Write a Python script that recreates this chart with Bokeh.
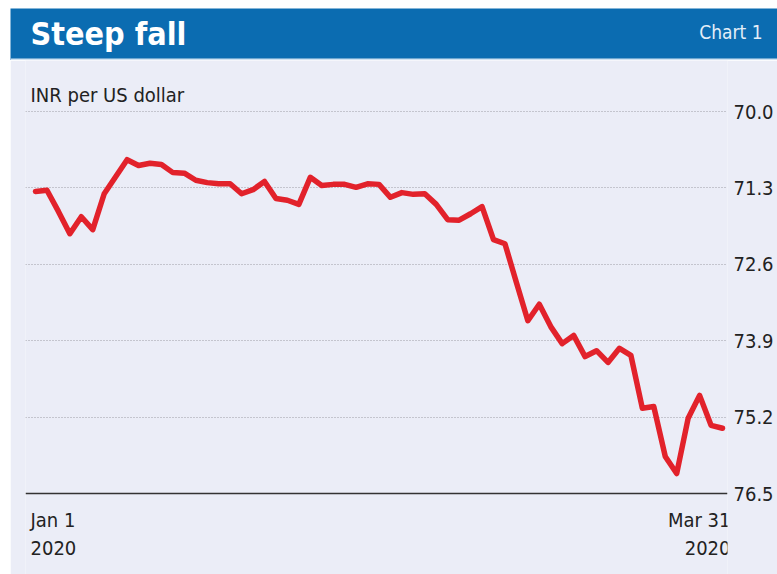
from bokeh.plotting import figure
from bokeh.layouts import column
from bokeh.models import Range1d, FixedTicker, Label, Span, BoxAnnotation
from bokeh.embed import file_html
from bokeh.resources import INLINE

# ---------------- data ----------------
title = "Steep fall"
chart_no = "Chart 1"
unit_label = "INR per US dollar"
start_label = ["Jan 1", "2020"]
end_label = ["Mar 31", "2020"]

# INR per US dollar, trading days Jan 1 - Mar 31 2020
inr_per_usd = [
    71.36, 71.34, 71.70, 72.08, 71.79, 72.01, 71.40, 71.11, 70.82, 70.92,
    70.88, 70.90, 71.04, 71.05, 71.17, 71.21, 71.23, 71.23, 71.40, 71.33,
    71.19, 71.48, 71.51, 71.58, 71.12, 71.26, 71.24, 71.24, 71.29, 71.23,
    71.24, 71.46, 71.38, 71.41, 71.40, 71.58, 71.84, 71.85, 71.74, 71.62,
    72.18, 72.25, 72.91, 73.56, 73.28, 73.66, 73.95, 73.81, 74.17, 74.07,
    74.27, 74.03, 74.15, 75.05, 75.02, 75.87, 76.16, 75.22, 74.83, 75.34,
    75.39,
]
day_index = list(range(len(inr_per_usd)))

y_ticks = [70.0, 71.3, 72.6, 73.9, 75.2, 76.5]
y_tick_labels = ["70.0", "71.3", "72.6", "73.9", "75.2", "76.5"]

# ---------------- style ----------------
FONT = "DejaVu Sans Condensed"
BLUE = "#0b6cb1"
BG = "#ebedf7"
RED = "#e2222b"
TXT = "#222222"

W = 767
TITLE_H = 52
CHART_H = 514

FIRST_X = 35.0     # page px of first point
PX_PER_DAY = 11.45
TOP70 = 51.0       # chart-figure px where 70.0 sits
PX_PER_UNIT = 58.77

def xv(px):
    return (px - FIRST_X) / PX_PER_DAY

def yv(py):
    # py in chart-figure pixels (from top of chart figure)
    return 70.0 + (py - TOP70) / PX_PER_UNIT

# ---------------- title bar ----------------
t = figure(width=W, height=TITLE_H, output_backend="svg", toolbar_location=None,
           x_range=Range1d(0, W), y_range=Range1d(0, TITLE_H),
           x_axis_location=None, y_axis_location=None, min_border=0)
t.frame_align = False
t.background_fill_color = BLUE
t.border_fill_color = BLUE
t.outline_line_color = None
t.grid.visible = False
t.add_layout(BoxAnnotation(bottom=0, top=2, left=0, right=W,
                           fill_color="#cfe2f2", fill_alpha=1, line_color=None))
t.add_layout(Label(x=20, y=27, text=title, text_font=FONT, text_font_size="32px",
                   text_font_style="bold", text_color="white",
                   text_baseline="middle", text_align="left"))
t.add_layout(Label(x=752, y=29, text=chart_no, text_font=FONT, text_font_size="19px",
                   text_color="#e3eef8", text_baseline="middle", text_align="right"))

# ---------------- chart ----------------
p = figure(width=W, height=CHART_H, output_backend="svg", toolbar_location=None,
           x_range=Range1d(xv(25.0), xv(727.0)), y_range=Range1d(yv(CHART_H), yv(0)),
           x_axis_location=None, y_axis_location="right",
           min_border_left=15, min_border_right=50, min_border_top=0, min_border_bottom=0)
p.frame_align = False
p.background_fill_color = BG
p.border_fill_color = BG
p.outline_line_color = None
p.xgrid.visible = False

p.yaxis.ticker = FixedTicker(ticks=y_ticks)
p.yaxis.major_label_overrides = {v: s for v, s in zip(y_ticks, y_tick_labels)}
p.yaxis.axis_line_color = None
p.yaxis.major_tick_line_color = None
p.yaxis.minor_tick_line_color = None
p.yaxis.major_tick_out = 0
p.yaxis.major_tick_in = 0
p.yaxis.major_label_standoff = 6
p.yaxis.major_label_text_font = FONT
p.yaxis.major_label_text_font_size = "20px"
p.yaxis.major_label_text_color = TXT

p.ygrid.ticker = FixedTicker(ticks=y_ticks[:-1])
p.ygrid.grid_line_color = "#9c9ca4"
p.ygrid.grid_line_dash = "1 2"
p.ygrid.grid_line_width = 1

p.add_layout(Span(location=y_ticks[-1], dimension="width", line_color="#333333", line_width=1.5))

p.line(day_index, inr_per_usd, line_color=RED, line_width=5.5,
       line_join="round", line_cap="round")

for txt, px, py, align in [
    (unit_label, 30, 34, "left"),
    (start_label[0], 30, 459, "left"),
    (start_label[1], 30, 487, "left"),
    (end_label[0], 730, 459, "right"),
    (end_label[1], 730, 487, "right"),
]:
    p.add_layout(Label(x=xv(px), y=yv(py), text=txt, text_font=FONT,
                       text_font_size="20px", text_color=TXT,
                       text_baseline="middle", text_align=align))

layout = column(t, p, spacing=0, margin=(8, 0, 0, 10))

open("out.html", "w").write(file_html(layout, INLINE))
